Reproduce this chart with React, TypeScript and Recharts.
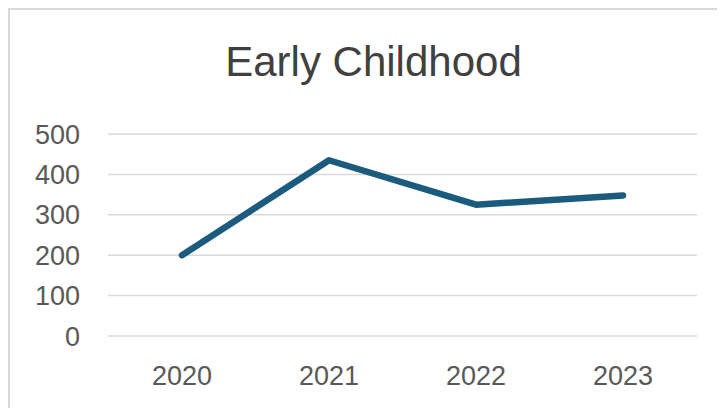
import { LineChart, Line, XAxis, YAxis, CartesianGrid } from 'recharts'

const years = ['2020', '2021', '2022', '2023']
const enrolment = [200, 435, 325, 348]
const yTicks = [0, 100, 200, 300, 400, 500]

const data = years.map((year, i) => ({ year, value: enrolment[i] }))

const FONT = '"Liberation Sans", Arial, sans-serif'

export default function App() {
  return (
    <div
      style={{
        position: 'relative',
        width: 727,
        height: 398,
        borderLeft: '2px solid #d9d9d9',
        borderTop: '2px solid #d9d9d9',
        background: '#fff',
        fontFamily: FONT
      }}
    >
      <div
        style={{
          position: 'absolute',
          left: 0,
          top: 31,
          width: '100%',
          textAlign: 'center',
          fontSize: 42,
          lineHeight: '42px',
          color: '#404040'
        }}
      >
        Early Childhood
      </div>

      <LineChart
        width={715}
        height={398}
        data={data}
        margin={{ top: 124, right: 28, left: 0, bottom: 0 }}
      >
        <CartesianGrid vertical={false} stroke="#d9d9d9" strokeWidth={1.5} />

        {/* half a category of space at each end, like a category axis */}
        <XAxis
          dataKey="year"
          padding={{ left: 74, right: 74 }}
          axisLine={false}
          tickLine={false}
          tickSize={0}
          tickMargin={30}
          height={72}
          tick={{ fontSize: 27, fill: '#595959', fontFamily: FONT }}
        />

        <YAxis
          domain={[0, 500]}
          ticks={yTicks}
          axisLine={false}
          tickLine={false}
          tickSize={0}
          tickMargin={28}
          width={98}
          tick={{ fontSize: 27, fill: '#595959', fontFamily: FONT }}
        />

        <Line
          type="linear"
          dataKey="value"
          stroke="#1b5b7e"
          strokeWidth={6.5}
          strokeLinecap="round"
          strokeLinejoin="round"
          dot={false}
          activeDot={false}
          isAnimationActive={false}
        />
      </LineChart>
    </div>
  )
}
